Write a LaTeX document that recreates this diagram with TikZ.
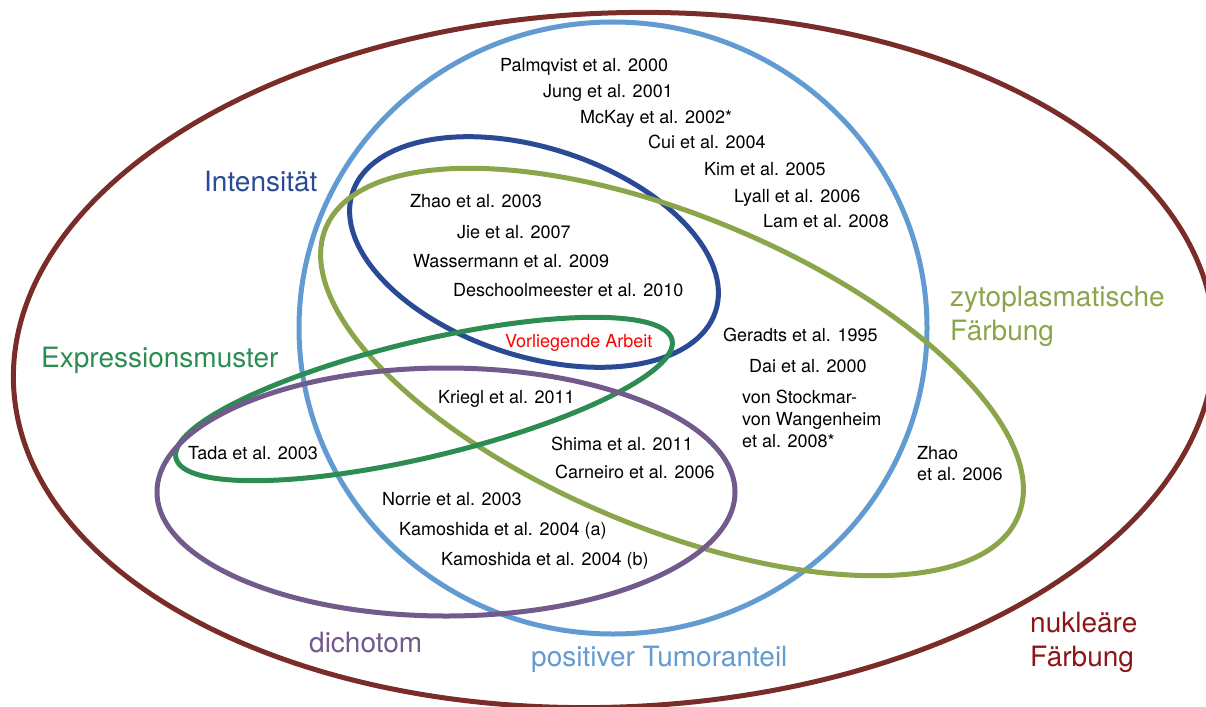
\documentclass[tikz,border=0pt]{standalone}
\usepackage{fontspec}
\setmainfont{TeX Gyre Heros}

\definecolor{nukbrown}{RGB}{122,45,40}
\definecolor{nuktext}{RGB}{140,22,22}
\definecolor{tumblue}{RGB}{98,155,210}
\definecolor{intblue}{RGB}{42,74,150}
\definecolor{zytolive}{RGB}{139,165,74}
\definecolor{expgreen}{RGB}{44,140,82}
\definecolor{dichpurple}{RGB}{115,90,140}

\tikzset{
  set/.style={line width=5pt},
  ref/.style={font=\fontsize{18}{22}\selectfont, anchor=base west, inner sep=0pt, align=left},
  setlabel/.style={font=\fontsize{28}{34}\selectfont, anchor=base west, inner sep=0pt, align=left}
}

\begin{document}
\begin{tikzpicture}[x=1pt,y=-1pt]
  \useasboundingbox (0,0) rectangle (1206,706);

  % Sets (one ellipse each)
  \draw[set, nukbrown, rotate around={2.4:(614,360)}] (614,360) ellipse (601 and 347);
  \draw[set, tumblue] (613,328) ellipse (314 and 306);
  \draw[set, intblue, rotate around={-18.1:(534,252)}] (534,252) ellipse (191 and 104);
  \draw[set, zytolive, rotate around={-22.6:(672,372)}] (672,372) ellipse (375 and 156);
  \draw[set, expgreen, rotate around={13.4:(424,399)}] (424,399) ellipse (255 and 58);
  \draw[set, dichpurple] (446,492) ellipse (289 and 124);

  % Set labels (multi-line nodes sit on their last line)
  \node[setlabel, intblue] (intensitaet) at (204,191) {Intensität};
  \node[setlabel, expgreen] (expression) at (41,367) {Expressionsmuster};
  \node[setlabel, zytolive] (zytoplasma) at (950,340) {zytoplasmatische\\Färbung};
  \node[setlabel, nuktext] (nukleaer) at (1030,666) {nukleäre\\Färbung};
  \node[setlabel, dichpurple] (dichotom) at (309,652) {dichotom};
  \node[setlabel, tumblue] (tumoranteil) at (531,666) {positiver Tumoranteil};

  % Positiver Tumoranteil only
  \node[ref] (palmqvist) at (500,72) {Palmqvist et al. 2000};
  \node[ref] (jung) at (543,98) {Jung et al. 2001};
  \node[ref] (mckay) at (580,124) {McKay et al. 2002*};
  \node[ref] (cui) at (648,148) {Cui et al. 2004};
  \node[ref] (kim) at (704,175) {Kim et al. 2005};
  \node[ref] (lyall) at (734,202) {Lyall et al. 2006};
  \node[ref] (lam) at (763,227) {Lam et al. 2008};

  % Intensitaet
  \node[ref] (zhaoA) at (410,207) {Zhao et al. 2003};
  \node[ref] (jie) at (457,238) {Jie et al. 2007};
  \node[ref] (wassermann) at (413,267) {Wassermann et al. 2009};
  \node[ref] (deschool) at (453,296) {Deschoolmeester et al. 2010};
  \node[ref, red] (vorliegend) at (505,347) {Vorliegende Arbeit};

  % Zytoplasmatische Faerbung
  \node[ref] (geradts) at (723,341) {Geradts et al. 1995};
  \node[ref] (dai) at (749,372) {Dai et al. 2000};
  \node[ref] (stockmar) at (742,447) {von Stockmar-\\von Wangenheim\\et al. 2008*};
  \node[ref, font=\fontsize{18}{21}\selectfont] (zhaoB) at (917,480) {Zhao\\et al. 2006};

  % Expressionsmuster and dichotom
  \node[ref] (kriegl) at (438,403) {Kriegl et al. 2011};
  \node[ref] (tada) at (188,459) {Tada et al. 2003};
  \node[ref] (shima) at (551,450) {Shima et al. 2011};
  \node[ref] (carneiro) at (555,478) {Carneiro et al. 2006};
  \node[ref] (norrie) at (382,505) {Norrie et al. 2003};
  \node[ref] (kamoA) at (399,535) {Kamoshida et al. 2004 (a)};
  \node[ref] (kamoB) at (441,565) {Kamoshida et al. 2004 (b)};
\end{tikzpicture}
\end{document}
